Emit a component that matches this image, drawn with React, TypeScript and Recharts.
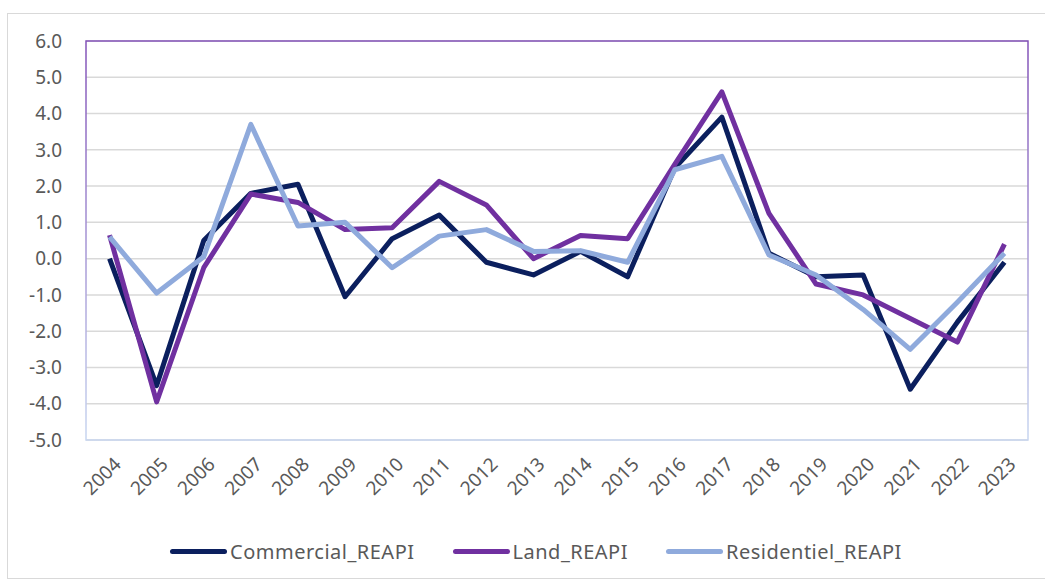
import React from 'react';
import { LineChart, Line, XAxis, YAxis, CartesianGrid, Legend, ReferenceArea } from 'recharts';

const years = [2004, 2005, 2006, 2007, 2008, 2009, 2010, 2011, 2012, 2013, 2014, 2015, 2016, 2017, 2018, 2019, 2020, 2021, 2022, 2023];
const commercial = [0.0, -3.5, 0.5, 1.8, 2.05, -1.05, 0.55, 1.2, -0.1, -0.45, 0.2, -0.5, 2.5, 3.9, 0.15, -0.5, -0.45, -3.6, -1.75, -0.1];
const land = [0.65, -3.95, -0.25, 1.78, 1.55, 0.8, 0.85, 2.13, 1.48, 0.0, 0.64, 0.55, 2.6, 4.6, 1.25, -0.7, -1.0, -1.65, -2.3, 0.4];
const residentiel = [0.6, -0.95, 0.05, 3.7, 0.9, 1.0, -0.25, 0.62, 0.8, 0.2, 0.22, -0.1, 2.45, 2.82, 0.1, -0.45, -1.4, -2.5, -1.2, 0.15];
const yTicks = [-5, -4, -3, -2, -1, 0, 1, 2, 3, 4, 5, 6];

const series = [
  { key: 'Commercial_REAPI', color: '#0B1F5E' },
  { key: 'Land_REAPI', color: '#7030A0' },
  { key: 'Residentiel_REAPI', color: '#8FAADC' },
];

const data = years.map((year, i) => ({
  year,
  Commercial_REAPI: commercial[i],
  Land_REAPI: land[i],
  Residentiel_REAPI: residentiel[i],
}));

const font = "'Noto Sans', 'Open Sans', sans-serif";
const textColor = '#595959';

const renderLegend = () => (
  <div
    style={{
      height: 82,
      display: 'flex',
      alignItems: 'center',
      paddingTop: 20,
      paddingLeft: 170,
      boxSizing: 'border-box',
      fontFamily: font,
      fontSize: 20,
      letterSpacing: 0.5,
      color: textColor,
    }}
  >
    {series.map((s) => (
      <div key={s.key} style={{ display: 'flex', alignItems: 'center', marginRight: 38 }}>
        <span
          style={{
            display: 'inline-block',
            width: 57,
            height: 5,
            borderRadius: 3,
            background: s.color,
            marginRight: 3,
          }}
        />
        <span>{s.key}</span>
      </div>
    ))}
  </div>
);

export default function App() {
  return (
    <>
      <div
        style={{
          position: 'absolute',
          left: 7,
          top: 13,
          width: 1040,
          height: 566,
          border: '1px solid #d9d9d9',
          boxSizing: 'border-box',
        }}
      />
      <div style={{ position: 'absolute', left: 0, top: 0 }}>
        <LineChart width={1045} height={582} data={data} margin={{ top: 41, right: 17, left: 0, bottom: 0 }}>
          <defs>
            <linearGradient id="frameGrad" x1="0" y1="0" x2="0" y2="1">
              <stop offset="0%" stopColor="#8352B8" />
              <stop offset="100%" stopColor="#C8D6F0" />
            </linearGradient>
          </defs>
          <CartesianGrid vertical={false} stroke="#d9d9d9" strokeWidth={1.5} />
          <XAxis
            type="number"
            dataKey="year"
            domain={[2003.5, 2023.5]}
            ticks={years}
            interval={0}
            axisLine={false}
            tickLine={false}
            tickSize={0}
            tickMargin={16}
            height={60}
            angle={-45}
            tick={{ fill: textColor, fontSize: 19, fontFamily: font, textAnchor: 'end', dx: 3 }}
          />
          <YAxis
            type="number"
            domain={[-5, 6]}
            ticks={yTicks}
            interval={0}
            width={86}
            axisLine={false}
            tickLine={false}
            tickSize={0}
            tickMargin={24}
            tickFormatter={(v: number) => v.toFixed(1)}
            tick={{ fill: textColor, fontSize: 19, fontFamily: font }}
          />
          <ReferenceArea y1={-5} y2={6} fill="none" fillOpacity={0} stroke="url(#frameGrad)" strokeWidth={1.5} />
          {series.map((s) => (
            <Line
              key={s.key}
              type="linear"
              dataKey={s.key}
              stroke={s.color}
              strokeWidth={5}
              strokeLinejoin="round"
              dot={false}
              activeDot={false}
              isAnimationActive={false}
            />
          ))}
          <Legend verticalAlign="bottom" height={82} wrapperStyle={{ left: 0, width: 1045 }} content={renderLegend} />
        </LineChart>
      </div>
    </>
  );
}
